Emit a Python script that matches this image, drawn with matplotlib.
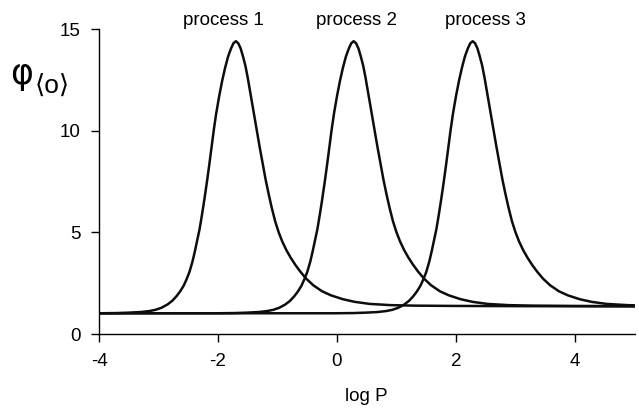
import matplotlib
matplotlib.use('Agg')
import matplotlib.pyplot as plt

plt.rcParams['font.family'] = ['Liberation Sans', 'DejaVu Sans']

# values (log P, phi) for each peak
log_p_1 = [-4.00, -3.70, -3.50, -3.30, -3.15, -3.05, -2.95, -2.85, -2.77, -2.70,
           -2.64, -2.58, -2.53, -2.48, -2.43, -2.39, -2.35, -2.31, -2.27, -2.23,
           -2.19, -2.15, -2.11, -2.07, -2.03, -1.98, -1.93, -1.88, -1.83, -1.78,
           -1.74, -1.70, -1.66, -1.62, -1.58, -1.54, -1.50, -1.45, -1.40, -1.35,
           -1.30, -1.25, -1.20, -1.15, -1.10, -1.04, -0.98, -0.92, -0.85, -0.78,
           -0.70, -0.62, -0.52, -0.40, -0.25, -0.10, 0.10, 0.30, 0.55, 0.90,
           1.30, 2.00, 3.00, 5.00]
phi_1 = [1.02, 1.03, 1.05, 1.08, 1.13, 1.19, 1.29, 1.45, 1.63, 1.85,
         2.08, 2.36, 2.68, 3.05, 3.55, 4.05, 4.60, 5.15, 5.85, 6.60,
         7.40, 8.25, 9.15, 10.05, 10.85, 11.70, 12.45, 13.10, 13.65, 14.05,
         14.30, 14.40, 14.30, 14.05, 13.65, 13.20, 12.60, 11.75, 10.90, 10.05,
         9.20, 8.40, 7.60, 6.90, 6.25, 5.55, 5.00, 4.55, 4.12, 3.76,
         3.40, 3.08, 2.73, 2.40, 2.10, 1.90, 1.71, 1.58, 1.48, 1.42,
         1.395, 1.38, 1.37, 1.36]

log_p_2 = [-4.00, -2.02, -1.72, -1.52, -1.32, -1.17, -1.07, -0.97, -0.87, -0.79,
           -0.72, -0.66, -0.60, -0.55, -0.50, -0.45, -0.41, -0.37, -0.33, -0.29,
           -0.25, -0.21, -0.17, -0.13, -0.09, -0.05, 0.00, 0.05, 0.10, 0.15,
           0.20, 0.24, 0.28, 0.32, 0.36, 0.40, 0.44, 0.48, 0.53, 0.58,
           0.63, 0.68, 0.73, 0.78, 0.83, 0.88, 0.94, 1.00, 1.06, 1.13,
           1.20, 1.28, 1.36, 1.46, 1.58, 1.73, 1.88, 2.08, 2.28, 2.53,
           2.88, 3.28, 3.98, 5.00]
phi_2 = [1.02, 1.02, 1.03, 1.05, 1.08, 1.13, 1.19, 1.29, 1.45, 1.63,
         1.85, 2.08, 2.36, 2.68, 3.05, 3.55, 4.05, 4.60, 5.15, 5.85,
         6.60, 7.40, 8.25, 9.15, 10.05, 10.85, 11.70, 12.45, 13.10, 13.65,
         14.05, 14.30, 14.40, 14.30, 14.05, 13.65, 13.20, 12.60, 11.75, 10.90,
         10.05, 9.20, 8.40, 7.60, 6.90, 6.25, 5.55, 5.00, 4.55, 4.12,
         3.76, 3.40, 3.08, 2.73, 2.40, 2.10, 1.90, 1.71, 1.58, 1.48,
         1.42, 1.395, 1.38, 1.37]

log_p_3 = [-4.00, -0.02, 0.28, 0.48, 0.68, 0.83, 0.93, 1.03, 1.13, 1.21,
           1.28, 1.34, 1.40, 1.45, 1.50, 1.55, 1.59, 1.63, 1.67, 1.71,
           1.75, 1.79, 1.83, 1.87, 1.91, 1.95, 2.00, 2.05, 2.10, 2.15,
           2.20, 2.24, 2.28, 2.32, 2.36, 2.40, 2.44, 2.48, 2.53, 2.58,
           2.63, 2.68, 2.73, 2.78, 2.83, 2.88, 2.94, 3.00, 3.06, 3.13,
           3.20, 3.28, 3.36, 3.46, 3.58, 3.73, 3.88, 4.08, 4.28, 4.53,
           4.88, 5.00]
phi_3 = [1.02, 1.02, 1.03, 1.05, 1.08, 1.13, 1.19, 1.29, 1.45, 1.63,
         1.85, 2.08, 2.36, 2.68, 3.05, 3.55, 4.05, 4.60, 5.15, 5.85,
         6.60, 7.40, 8.25, 9.15, 10.05, 10.85, 11.70, 12.45, 13.10, 13.65,
         14.05, 14.30, 14.40, 14.30, 14.05, 13.65, 13.20, 12.60, 11.75, 10.90,
         10.05, 9.20, 8.40, 7.60, 6.90, 6.25, 5.55, 5.00, 4.55, 4.12,
         3.76, 3.40, 3.08, 2.73, 2.40, 2.10, 1.90, 1.71, 1.58, 1.48,
         1.42, 1.41]

labels = ['process 1', 'process 2', 'process 3']
label_x = [-1.91, 0.33, 2.49]

x_ticks = [-4, -2, 0, 2, 4]
y_ticks = [0, 5, 10, 15]

W, H = 639, 411
fig = plt.figure(figsize=(W / 100, H / 100), dpi=100)
ax = fig.add_axes([99 / W, 1 - 334 / H, 535.5 / W, 305 / H])

for xs, ys in [(log_p_1, phi_1), (log_p_2, phi_2), (log_p_3, phi_3)]:
    ax.plot(xs, ys, color='#0d0d0d', lw=1.8, solid_joinstyle='round')

for name, xpos in zip(labels, label_x):
    ax.text(xpos, 15.2, name, ha='center', va='baseline', fontsize=13.5,
            clip_on=False)

ax.set_xlim(-4, 5)
ax.set_ylim(0, 15)
ax.set_xticks(x_ticks)
ax.set_yticks(y_ticks)
ax.set_xticklabels([str(t) for t in x_ticks])
ax.spines['top'].set_visible(False)
ax.spines['right'].set_visible(False)
ax.spines['left'].set_linewidth(1.0)
ax.spines['bottom'].set_linewidth(1.0)
ax.tick_params(direction='out', length=6, width=1.0, labelsize=13.5)
ax.tick_params(axis='x', pad=8)
ax.tick_params(axis='y', pad=7)

# axis titles: phi with an angle-bracketed o as subscript
fig.text(366 / W, 1 - 401 / H, 'log P', ha='center', va='baseline', fontsize=13.5)
fig.text(22 / W, 1 - 74 / H, '\u03c6', ha='center', va='center', fontsize=25,
         family=['DejaVu Sans'])
fig.text(35 / W, 1 - 86 / H, '\u27e8o\u27e9', ha='left', va='center', fontsize=19,
         family=['Liberation Sans', 'DejaVu Sans'])

fig.savefig('out.png', dpi=100)
